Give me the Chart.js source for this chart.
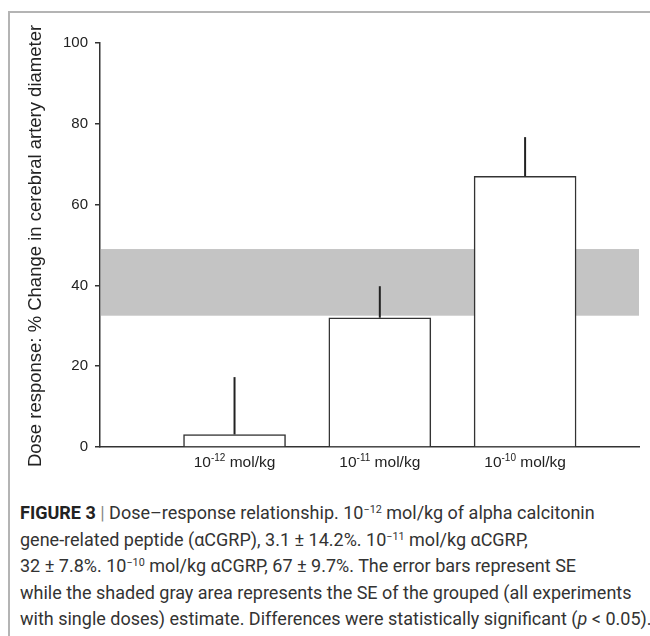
<!DOCTYPE html>
<html>
<head>
<meta charset="utf-8">
<script src="https://cdn.jsdelivr.net/npm/chart.js@4/dist/chart.umd.min.js"></script>
<style>
  html, body { margin: 0; padding: 0; background: #fff; overflow: hidden; }
  body { width: 650px; height: 636px; position: relative; }
  #frame {
    position: absolute; left: 8px; top: 11px; right: -10px; bottom: -10px;
    border-left: 2px solid #b4b4b4; border-top: 2px solid #b4b4b4;
  }
  #wrap { position: absolute; left: 0; top: 0; width: 650px; height: 480px; }
  #caption {
    position: absolute; left: 20px; top: 500px; width: 630px;
    font-family: 'Liberation Sans Narrow', 'Roboto', sans-serif;
    font-size: 18px; line-height: 26.6px; color: #333; white-space: nowrap;
  }
  #caption b { color: #222; }
  #caption .pipe { color: #888; }
  #caption sup { font-size: 0.6em; line-height: 0; vertical-align: 0.6em; }
</style>
</head>
<body>
<div id="frame"></div>
<div id="wrap"><canvas id="chart" width="650" height="480"></canvas></div>
<div id="caption"><b>FIGURE 3</b> <span class="pipe">|</span> Dose–response relationship. 10<sup>−12</sup> mol/kg of alpha calcitonin<br>gene-related peptide (αCGRP), 3.1 ± 14.2%. 10<sup>−11</sup> mol/kg αCGRP,<br>32 ± 7.8%. 10<sup>−10</sup> mol/kg αCGRP, 67 ± 9.7%. The error bars represent SE<br>while the shaded gray area represents the SE of the grouped (all experiments<br>with single doses) estimate. Differences were statistically significant (<i>p</i> &lt; 0.05).</div>
<script>
// doses (10^exp mol/kg), placed at positions 1..3 on the x axis
const doseExponents = ['-12', '-11', '-10'];
const dosePositions = [1, 2, 3];
const meanChange = [3.1, 32, 67];
const seChange = [14.2, 7.8, 9.7];
// SE range of the grouped estimate (shaded band)
const groupedBand = [32.5, 49];
const yTicks = [0, 20, 40, 60, 80, 100];

const yTitle = 'Dose response: % Change in cerebral artery diameter';
const inkColor = '#222';
const axisColor = '#333';

const bandPlugin = {
  id: 'band',
  beforeDatasetsDraw(chart) {
    const { ctx, chartArea, scales } = chart;
    const yTop = scales.y.getPixelForValue(groupedBand[1]);
    const yBot = scales.y.getPixelForValue(groupedBand[0]);
    ctx.save();
    ctx.fillStyle = '#c4c4c4';
    ctx.fillRect(chartArea.left + 1, yTop, chartArea.right - chartArea.left - 1, yBot - yTop);
    ctx.restore();
  }
};

const extrasPlugin = {
  id: 'extras',
  afterDatasetsDraw(chart) {
    const { ctx, scales } = chart;
    ctx.save();
    ctx.strokeStyle = inkColor;
    ctx.lineWidth = 2;
    meanChange.forEach((v, i) => {
      const x = scales.x.getPixelForValue(dosePositions[i]);
      ctx.beginPath();
      ctx.moveTo(x, scales.y.getPixelForValue(v));
      ctx.lineTo(x, scales.y.getPixelForValue(v + seChange[i]));
      ctx.stroke();
    });
    ctx.restore();
  },
  afterDraw(chart) {
    const { ctx, scales, chartArea } = chart;
    ctx.save();
    ctx.fillStyle = inkColor;
    ctx.textBaseline = 'alphabetic';
    // dose labels with superscript exponent
    const big = '15.5px "Liberation Sans", Arial, sans-serif';
    const small = '10px "Liberation Sans", Arial, sans-serif';
    doseExponents.forEach((e, i) => {
      ctx.font = big;
      const w1 = ctx.measureText('10').width;
      const w3 = ctx.measureText(' mol/kg').width;
      ctx.font = small;
      const w2 = ctx.measureText(e).width;
      const cx = scales.x.getPixelForValue(dosePositions[i]);
      let x = cx - (w1 + w2 + w3) / 2;
      const base = chartArea.bottom + 20;
      ctx.font = big; ctx.fillText('10', x, base); x += w1;
      ctx.font = small; ctx.fillText(e, x, base - 6); x += w2;
      ctx.font = big; ctx.fillText(' mol/kg', x, base);
    });
    // y axis title
    ctx.translate(36, (chartArea.top + chartArea.bottom) / 2 + 1);
    ctx.rotate(-Math.PI / 2);
    ctx.textAlign = 'center';
    ctx.textBaseline = 'middle';
    ctx.font = '18.5px "Liberation Sans", Arial, sans-serif';
    ctx.fillText(yTitle, 0, 0);
    ctx.restore();
  }
};

new Chart(document.getElementById('chart'), {
  type: 'bar',
  data: {
    datasets: [{
      data: dosePositions.map((x, i) => ({ x, y: meanChange[i] })),
      backgroundColor: '#fff',
      borderColor: axisColor,
      borderWidth: 1.5,
      barThickness: 102
    }]
  },
  options: {
    responsive: false,
    animation: false,
    events: [],
    layout: { padding: { top: 43, right: 11, left: 0, bottom: 0 } },
    plugins: { legend: { display: false }, tooltip: { enabled: false } },
    scales: {
      x: {
        type: 'linear',
        min: 0.339,
        max: 3.519,
        ticks: { display: false },
        grid: { display: true, drawOnChartArea: false, drawTicks: false },
        border: { display: true, color: axisColor, width: 1.5 },
        afterFit: s => { s.height = 33; }
      },
      y: {
        min: yTicks[0],
        max: yTicks[yTicks.length - 1],
        afterBuildTicks: s => { s.ticks = yTicks.map(v => ({ value: v })); },
        ticks: {
          padding: 7,
          color: inkColor,
          font: { family: '"Liberation Sans", Arial, sans-serif', size: 15 }
        },
        grid: { drawOnChartArea: false, drawTicks: true, tickLength: 5, color: axisColor, lineWidth: 1.5 },
        border: { display: true, color: axisColor, width: 1.5 },
        afterFit: s => { s.width = 100; }
      }
    }
  },
  plugins: [bandPlugin, extrasPlugin]
});
</script>
</body>
</html>
